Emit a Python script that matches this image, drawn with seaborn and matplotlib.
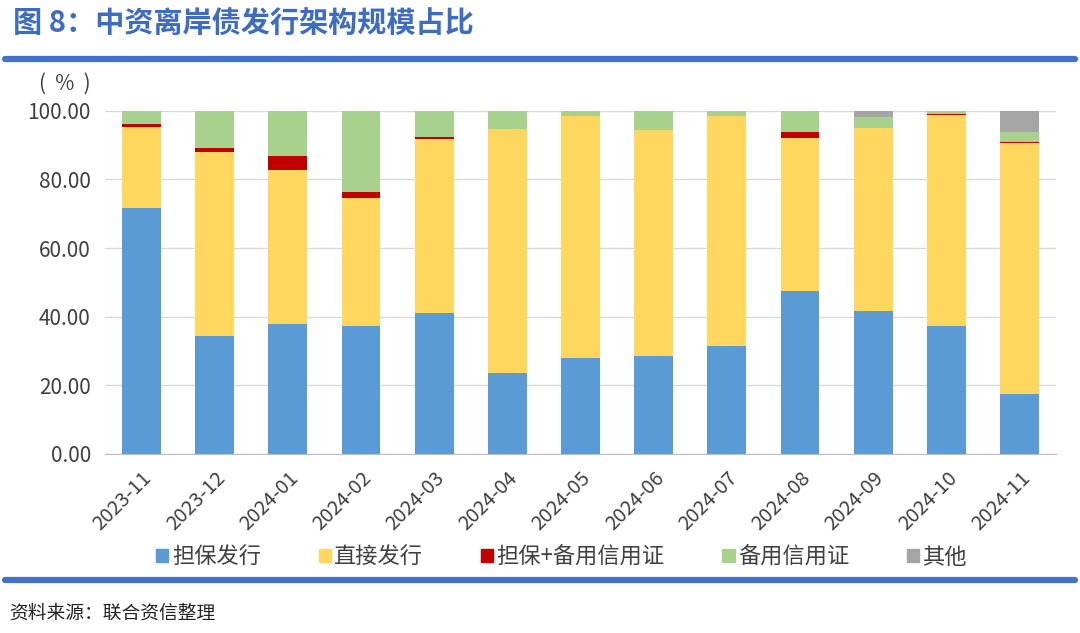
import numpy as np
import pandas as pd
import matplotlib
matplotlib.use('Agg')
import matplotlib.pyplot as plt
import seaborn as sns
from matplotlib.patches import Rectangle
from matplotlib.lines import Line2D

sns.set_style('white')
plt.rcParams['font.family'] = ['Noto Sans CJK SC', 'DejaVu Sans']
plt.rcParams['axes.unicode_minus'] = False

# 数据（按图读取，单位：%）
months = ['2023-11', '2023-12', '2024-01', '2024-02', '2024-03', '2024-04', '2024-05',
          '2024-06', '2024-07', '2024-08', '2024-09', '2024-10', '2024-11']
guarantee = [71.7, 34.4, 37.9, 37.3, 41.1, 23.6, 28.0, 28.6, 31.5, 47.5, 41.7, 37.3, 17.5]
direct = [23.6, 53.6, 44.9, 37.3, 50.7, 71.2, 70.5, 65.9, 67.0, 44.6, 53.3, 61.5, 73.2]
guar_sblc = [0.9, 1.2, 4.1, 1.8, 0.6, 0.0, 0.0, 0.0, 0.0, 1.8, 0.0, 0.4, 0.3]
sblc = [3.8, 10.8, 13.1, 23.6, 7.6, 5.2, 1.5, 5.5, 1.5, 6.1, 3.2, 0.8, 2.9]
other = [0.0, 0.0, 0.0, 0.0, 0.0, 0.0, 0.0, 0.0, 0.0, 0.0, 1.8, 0.0, 6.1]

series_names = ['担保发行', '直接发行', '担保+备用信用证', '备用信用证', '其他']
series_vals = [guarantee, direct, guar_sblc, sblc, other]
colors = ['#5b9bd5', '#ffd75e', '#c00000', '#a9d18e', '#a5a5a5']

fig = plt.figure(figsize=(10.8, 6.33), dpi=100)
ax = fig.add_axes([0.097, 0.283, 0.881, 0.542])

bottom = np.zeros(len(months))
for name, vals, c in zip(series_names, series_vals, colors):
    df = pd.DataFrame({'month': months, 'value': vals})
    sns.barplot(data=df, x='month', y='value', color=c, bottom=bottom.copy(),
                width=0.53, linewidth=0, saturation=1, ax=ax, zorder=3)
    bottom += np.array(vals)

ax.set_ylim(0, 100)
ax.set_xlim(-0.5, len(months) - 0.5)
ax.set_yticks(np.arange(0, 101, 20))
ax.set_yticklabels([f'{v:.2f}' for v in np.arange(0, 101, 20)], fontsize=15, color='#404040')
ax.set_xticks(range(len(months)))
ax.set_xticklabels(months, rotation=45, ha='right', rotation_mode='anchor',
                   fontsize=14.5, color='#404040')
ax.tick_params(axis='x', length=0, pad=10)
ax.tick_params(axis='y', length=0, pad=10)
ax.set_xlabel('')
ax.set_ylabel('')
ax.grid(axis='y', color='#d9d9d9', linewidth=1, zorder=0)
for s in ['left', 'right', 'top']:
    ax.spines[s].set_visible(False)
ax.spines['bottom'].set_color('#bfbfbf')
ax.spines['bottom'].set_zorder(4)

fig.text(0.036, 0.868, '(  %  )', fontsize=15, color='#404040', ha='left', va='center')

# 标题与分隔线
fig.text(0.012, 0.962, '图 8：中资离岸债发行架构规模占比', fontsize=21, fontweight='bold',
         color='#3d6cc0', ha='left', va='center')
fig.add_artist(Line2D([0.005, 0.995], [0.907, 0.907], color='#4472c4', linewidth=4.5))
fig.add_artist(Line2D([0.005, 0.995], [0.083, 0.083], color='#4472c4', linewidth=4.5))
fig.text(0.008, 0.032, '资料来源：联合资信整理', fontsize=13.5, color='#222222',
         ha='left', va='center')

handles = [Rectangle((0, 0), 1, 1, color=c) for c in colors]
fig.legend(handles, series_names, loc='center', bbox_to_anchor=(0.52, 0.12), ncol=5,
           frameon=False, fontsize=16, handlelength=0.55, handleheight=0.55,
           handletextpad=0.15, columnspacing=2.6, labelcolor='#404040')

fig.savefig('out.png', dpi=100)
